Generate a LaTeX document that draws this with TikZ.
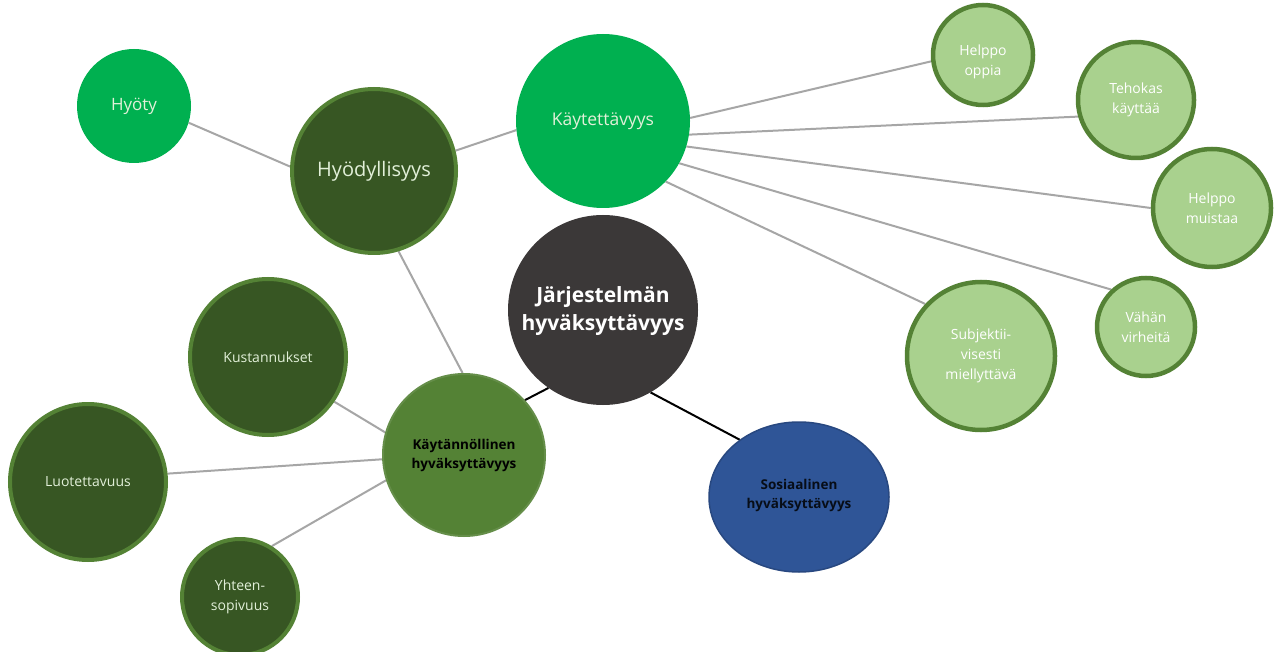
\documentclass[tikz,border=0pt]{standalone}
\usepackage{fontspec}
\setmainfont{Open Sans}
\usetikzlibrary{backgrounds,shapes.geometric}
\definecolor{bgreen}{HTML}{00B050}
\definecolor{dgreen}{HTML}{375623}
\definecolor{mgreen}{HTML}{548235}
\definecolor{lgreen}{HTML}{A9D18E}
\definecolor{cgray}{HTML}{3B3838}
\definecolor{sblue}{HTML}{2F5597}
\definecolor{lgray}{HTML}{A6A6A6}
\definecolor{paletext}{HTML}{E2F0D9}
\tikzset{
  bubble/.style={circle, inner sep=0pt, align=center},
  brightbub/.style={bubble, fill=bgreen, text=paletext},
  darkbub/.style={bubble, fill=dgreen, draw=mgreen, line width=4pt, text=paletext, font=\fontsize{14}{20}\selectfont},
  lightbub/.style={bubble, fill=lgreen, draw=mgreen, line width=4.5pt, text=white, font=\fontsize{14}{20}\selectfont},
  lighttxt/.style={align=center, inner sep=0pt, text=white, font=\fontsize{14}{20}\selectfont},
  link/.style={draw=lgray, line width=2pt},
  blink/.style={draw=black, line width=2pt},
  boldlbl/.style={align=center, inner sep=0pt, font=\bfseries\fontsize{13.5}{19}\selectfont}
}
\begin{document}
\begin{tikzpicture}[x=1pt,y=-1pt]
\useasboundingbox (0,0) rectangle (1274,652);
% central
\node[circle, fill=cgray, minimum size=190pt, inner sep=0pt] (jar) at (603,310) {};
\node[boldlbl, text=white, font=\bfseries\fontsize{21}{28.5}\selectfont] (jarl) at (603,311) {Järjestelmän\\hyväksyttävyys};
% left branch
\node[darkbub, minimum size=164pt, font=\fontsize{20}{24}\selectfont] (hyod) at (374,171) {Hyödyllisyys};
\node[brightbub, minimum size=114pt, font=\fontsize{17}{20}\selectfont] (hyoty) at (134,106) {Hyöty};
\node[brightbub, minimum size=174pt, font=\fontsize{17.5}{20}\selectfont] (kayt) at (603,121) {Käytettävyys};
\node[bubble, fill=mgreen, draw=mgreen!90!white, line width=2pt, minimum size=162pt, text=black, font=\bfseries\fontsize{13.5}{19}\selectfont] (kaytan) at (464,455) {Käytännöllinen\\hyväksyttävyys};
\node[darkbub, minimum size=156pt] (kus) at (268,357) {Kustannukset};
\node[darkbub, minimum size=156pt] (luo) at (88,482) {Luotettavuus};
\node[darkbub, minimum size=116pt] (yht) at (240,597) {Yhteen-\\sopivuus};
% social
\node[ellipse, fill=sblue, draw=sblue!85!black, line width=1.5pt, minimum width=180pt, minimum height=150pt, inner sep=0pt] (sos) at (799,497) {};
\node[boldlbl, text=black!85!sblue] (sosl) at (799,495) {Sosiaalinen\\hyväksyttävyys};
% right branch
\node[lightbub, minimum size=100pt] (ho) at (983,55) {};
\node[lighttxt] (hol) at ([yshift=-7pt]ho.center) {Helppo\\oppia};
\node[lightbub, minimum size=116pt] (tk) at (1136,100) {Tehokas\\käyttää};
\node[lightbub, minimum size=118pt] (hm) at (1212,208) {Helppo\\muistaa};
\node[lightbub, minimum size=98pt] (vv) at (1146,327) {Vähän\\virheitä};
\node[lightbub, minimum size=148pt] (sm) at (981,356) {Subjektii-\\visesti\\miellyttävä};
\begin{scope}[on background layer]
  \fill[white] (0,0) rectangle (1274,652);
  \draw[link] (hyoty.-17) -- (hyod.177);
  \draw[link] (hyod.14) -- (kayt.186);
  \draw[link] (hyod.-73) -- (kaytan.91);
  \draw[link] (kaytan.164) -- (kus.-34);
  \draw[link] (kaytan.183) -- (luo.6);
  \draw[link] (kaytan.198) -- (yht.58);
  \draw[link] (kayt.2) -- (ho.187);
  \draw[link] (kayt.-9) -- (tk.196);
  \draw[link] (kayt.-17) -- (hm.180);
  \draw[link] (kayt.-29) -- (vv.133);
  \draw[link] (kayt.-44) -- (sm.137);
  \draw[blink] (jar.235) -- (kaytan.42);
  \draw[blink] (jar.300) -- (sos.136);
\end{scope}
\end{tikzpicture}
\end{document}
